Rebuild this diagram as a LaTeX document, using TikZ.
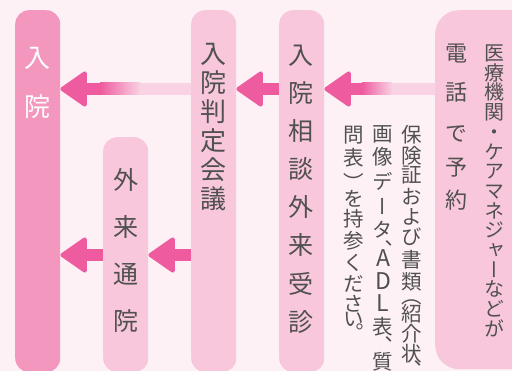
\documentclass[tikz,border=0pt]{standalone}
\usepackage{fontspec}
\newfontfamily\jpfont[RawFeature=+vert]{Noto Sans CJK JP}
\usetikzlibrary{arrows.meta}

\definecolor{bgpink}{HTML}{FDF1F6}
\definecolor{boxpink}{HTML}{F8C7DB}
\definecolor{nyuinpink}{HTML}{F397BF}
\definecolor{arrowpink}{HTML}{EE5C9F}
\definecolor{shaftpink}{HTML}{F9D2E3}
\definecolor{textgray}{HTML}{505050}

\newcommand\bigletter[1]{{\fontsize{23}{23}\selectfont #1}}

\tikzset{
  column/.style={fill=boxpink, rounded corners=14pt, anchor=north west,
    minimum width=45pt, minimum height=362pt, inner sep=0pt},
  kanji/.style={font=\jpfont\fontsize{#1}{#1}\selectfont, text=textgray,
    inner sep=0pt, text height={0.88*#1pt}, text depth={0.12*#1pt}},
  kanji/.default=25,
  flow/.style={draw=arrowpink, line width=12pt,
    -{Triangle[length=28pt, width=38pt, line width=4pt, round, color=arrowpink]}},
}

\begin{document}
\begin{tikzpicture}[x=1pt, y=-1pt]
  \useasboundingbox (0,0) rectangle (512,371);
  \clip (0,0) rectangle (512,371);
  \fill[bgpink] (0,0) rectangle (512,371);

  % columns
  \node[column, fill=nyuinpink] (nyuin) at (15,10) {};
  \node[column, minimum height=235pt] (gairai) at (103,137) {};
  \node[column] (hantei) at (191,10) {};
  \node[column] (soudan) at (279,10) {};
  \node[column, rounded corners=24pt, minimum width=100pt, minimum height=359pt] (denwa) at (435,10) {};

  % rows of the arrows
  \coordinate (upper) at (0,89);
  \coordinate (lower) at (0,255);

  % arrows
  \draw[flow, draw=shaftpink] (denwa.west |- upper) -- (soudan.east |- upper);
  \fill[arrowpink] (350,83) rectangle (362,95);
  \shade[left color=arrowpink, right color=shaftpink] (362,83) rectangle (392,95);

  \draw[flow] (soudan.west |- upper) -- (hantei.east |- upper);

  \draw[flow, draw=shaftpink] (hantei.west |- upper) -- (nyuin.east |- upper);
  \fill[arrowpink] (85,83) rectangle (100,95);
  \shade[left color=arrowpink, right color=shaftpink] (100,83) rectangle (140,95);

  \draw[flow] (hantei.west |- lower) -- (gairai.east |- lower);
  \draw[flow] (gairai.west |- lower) -- (nyuin.east |- lower);

  % column texts
  \foreach \ch [count=\i from 0] in {入,院}
    \node[kanji=26, text=white] (nyuin-\i) at (37.5,58+49*\i) {\ch};
  \foreach \ch [count=\i from 0] in {外,来,通,院}
    \node[kanji] (gairai-\i) at (125.5,180+47*\i) {\ch};
  \foreach \ch [count=\i from 0] in {入,院,判,定,会,議}
    \node[kanji=26] (hantei-\i) at (213,54+29*\i) {\ch};
  \foreach \ch [count=\i from 0] in {入,院,相,談,外,来,受,診}
    \node[kanji] (soudan-\i) at (300.5,55+38.1*\i) {\ch};

  % reservation box
  \foreach \ch [count=\i from 0] in {医,療,機,関,・,ケ,ア,マ,ネ,ジ,ャ,ー,な,ど,が}
    \node[kanji=20] (irai-\i) at (494,53+19.7*\i) {\ch};
  \foreach \ch/\y [count=\i] in {電/53,話/92,で/133,予/167,約/200}
    \node[kanji=22] (yoyaku-\i) at (456,\y) {\ch};

  % note on documents
  \foreach \ch/\y [count=\i] in {保/135,険/156,証/175,お/197,よ/217,び/237,書/260,
      類/282,（/296,紹/314,介/334,状/354,、/370}
    \node[kanji=20.5] (memoa-\i) at (412,\y) {\ch};
  \foreach \ch/\y [count=\i] in {画/134,像/157,デ/182,ー/207,タ/230,、/250,
      \bigletter{A}/259,\bigletter{D}/282,\bigletter{L}/304,表/327,、/346,質/362}
    \node[kanji=20.5] (memob-\i) at (383,\y) {\ch};
  \foreach \ch/\y [count=\i] in {問/135,表/158,）/183,を/199,持/219,参/241,
      く/263,だ/284,さ/304,い/319,。/333}
    \node[kanji=20.5] (memoc-\i) at (354,\y) {\ch};
\end{tikzpicture}
\end{document}
